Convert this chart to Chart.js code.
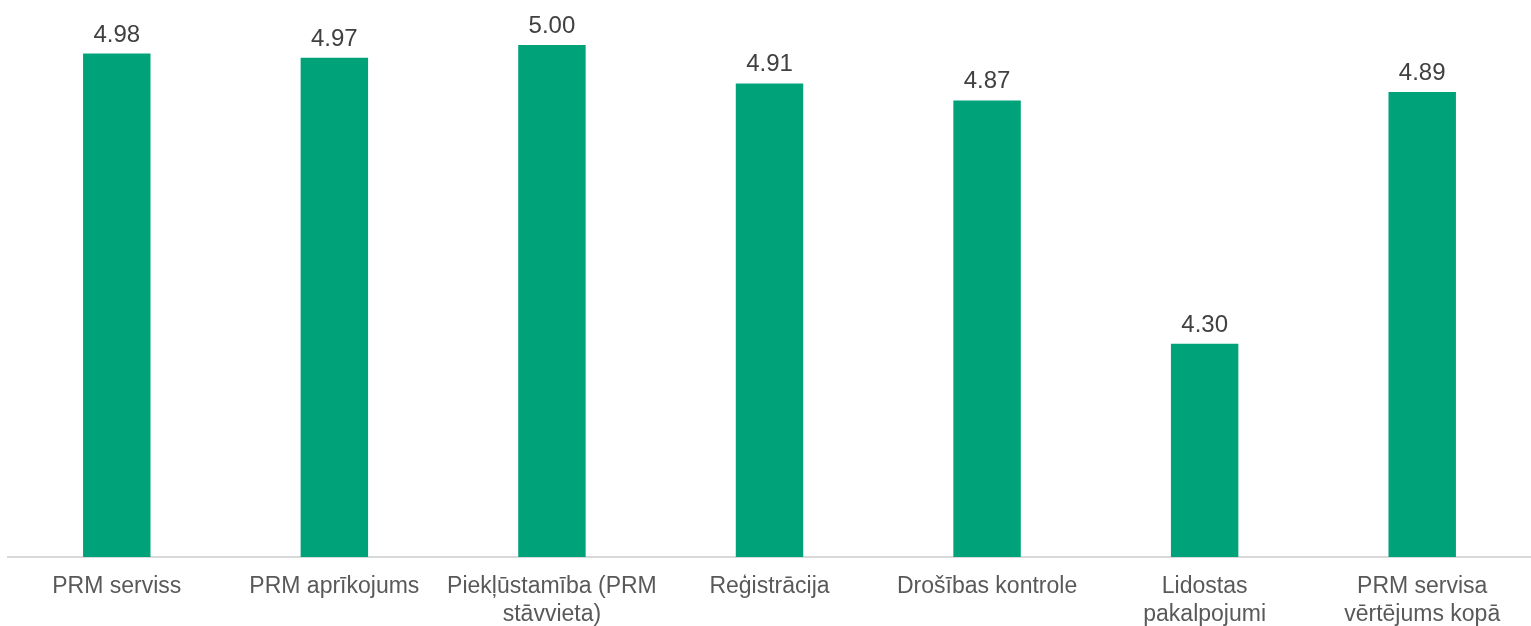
<!DOCTYPE html>
<html>
<head>
<meta charset="utf-8">
<script src="https://cdn.jsdelivr.net/npm/chart.js@4/dist/chart.umd.min.js"></script>
<style>
  body { margin: 0; background: #fff; }
  #wrap { width: 1531px; height: 626px; }
</style>
</head>
<body>
<div id="wrap"><canvas id="myBarChart"></canvas></div>
<script>
// Kategorijas un vērtības
var categories = [
    "PRM serviss",
    "PRM aprīkojums",
    ["Piekļūstamība (PRM", "stāvvieta)"],
    "Reģistrācija",
    "Drošības kontrole",
    ["Lidostas", "pakalpojumi"],
    ["PRM servisa", "vērtējums kopā"]
];
var scores = [4.98, 4.97, 5.00, 4.91, 4.87, 4.30, 4.89];
var barColor = "#00A27A";

// vērtību uzraksti virs stabiņiem
var valueLabels = {
    id: 'valueLabels',
    afterDatasetsDraw(chart) {
        const ctx = chart.ctx;
        const meta = chart.getDatasetMeta(0);
        ctx.save();
        ctx.font = '24px "Liberation Sans", Arial, sans-serif';
        ctx.fillStyle = '#404040';
        ctx.textAlign = 'center';
        ctx.textBaseline = 'alphabetic';
        meta.data.forEach((bar, i) => {
            ctx.fillText(scores[i].toFixed(2), bar.x, bar.y - 12);
        });
        ctx.restore();
    }
};

var ctx = document.getElementById('myBarChart').getContext('2d');
var myBarChart = new Chart(ctx, {
    type: 'bar',
    data: {
        labels: categories,
        datasets: [{
            data: scores,
            backgroundColor: barColor,
            categoryPercentage: 1,
            barPercentage: 0.31
        }]
    },
    options: {
        responsive: true,
        maintainAspectRatio: false,
        animation: false,
        layout: { padding: { top: 45, left: 8, right: 0, bottom: 0 } },
        plugins: {
            legend: { display: false },
            tooltip: { enabled: false }
        },
        scales: {
            y: {
                display: false,
                min: 3.8,
                max: 5.0
            },
            x: {
                grid: { display: false, drawTicks: false },
                border: { display: true, color: '#d9d9d9', width: 2 },
                afterFit(scale) { scale.height = 69; },
                ticks: {
                    color: '#595959',
                    padding: 15,
                    maxRotation: 0,
                    autoSkip: false,
                    font: { family: '"Liberation Sans", Arial, sans-serif', size: 23, lineHeight: 1.25 }
                }
            }
        }
    },
    plugins: [valueLabels]
});
</script>
</body>
</html>
